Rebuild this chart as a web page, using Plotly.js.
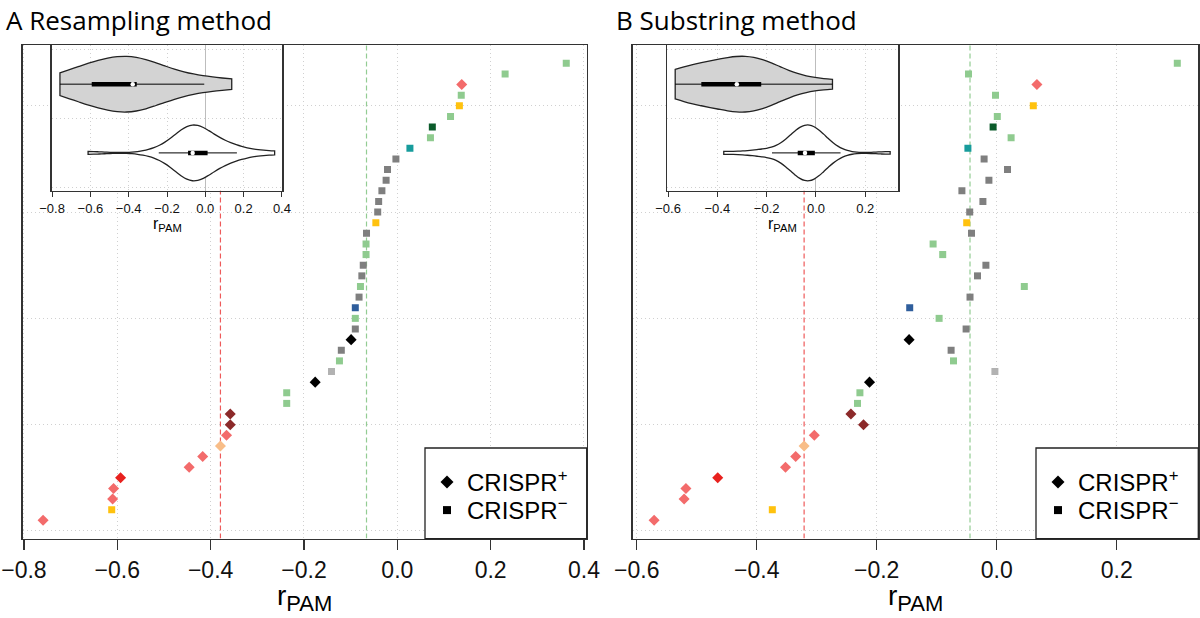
<!DOCTYPE html>
<html><head><meta charset="utf-8">
<script src="https://cdn.plot.ly/plotly-3.0.1.min.js"></script>
<style>html,body{margin:0;padding:0;background:#fff}</style>
</head><body>
<div id="chart" style="width:1200px;height:618px"></div>
<script>
// ---------------- data (one entry per organism, ordered by rank in panel A) ----------------
const rpamResampling = [-0.759, -0.612, -0.610, -0.608, -0.593, -0.446, -0.417, -0.379, -0.366, -0.358,
  -0.358, -0.237, -0.237, -0.176, -0.141, -0.124, -0.120, -0.099, -0.090, -0.090,
  -0.090, -0.082, -0.079, -0.076, -0.073, -0.067, -0.067, -0.066, -0.046, -0.042,
  -0.040, -0.033, -0.024, -0.021, -0.003, 0.027, 0.071, 0.075, 0.114, 0.133,
  0.137, 0.138, 0.231, 0.362];
const rpamSubstring = [-0.571, -0.374, -0.521, -0.518, -0.465, -0.352, -0.335, -0.321, -0.304, -0.222,
  -0.243, -0.232, -0.228, -0.212, -0.003, -0.072, -0.076, -0.146, -0.051, -0.096,
  -0.145, -0.0445, 0.046, -0.032, -0.018, -0.090, -0.106, -0.042, -0.050, -0.045,
  -0.023, -0.058, -0.013, 0.018, -0.021, -0.048, 0.024, -0.006, 0.001, 0.061,
  -0.002, 0.067, -0.047, 0.301];
const crisprStatus = ['+','-','+','+','+','+','+','+','+','+',
  '+','-','-','+','-','-','-','+','-','-',
  '-','-','-','-','-','-','-','-','-','-',
  '-','-','-','-','-','-','-','-','-','-',
  '-','+','-','-'];
const colorGroup = ['salmon','gold','salmon','salmon','red','salmon','salmon','peach','salmon','darkred',
  'darkred','lightgreen','lightgreen','black','lightgray','lightgreen','gray','black','gray','lightgreen',
  'blue','gray','lightgreen','gray','gray','lightgreen','lightgreen','gray','gold','gray',
  'gray','gray','gray','gray','gray','teal','lightgreen','darkgreen','lightgreen','gold',
  'lightgreen','salmon','lightgreen','lightgreen'];
const groupColors = {salmon:'#F36B6B', gold:'#FFC20E', red:'#E8211E', peach:'#F8BD88', darkred:'#8C2A2A',
  lightgreen:'#8FCB8F', black:'#000000', lightgray:'#B2B2B2', gray:'#7F7F7F', blue:'#2F5E9C',
  teal:'#179C9C', darkgreen:'#0B5B2B'};
const xTicksA = [-0.8, -0.6, -0.4, -0.2, 0, 0.2, 0.4];
const xTickTextA = ['\u22120.8', '\u22120.6', '\u22120.4', '\u22120.2', '0.0', '0.2', '0.4'];
const xTicksB = [-0.6, -0.4, -0.2, 0, 0.2];
const xTickTextB = ['\u22120.6', '\u22120.4', '\u22120.2', '0.0', '0.2'];
const rankGrid = [0, 10, 20, 30, 40];
const legendLabels = ['CRISPR<sup>+</sup>', 'CRISPR<sup>\u2212</sup>'];
const panelTitles = ['A Resampling method', 'B Substring method'];
const axisTitle = 'r<sub>PAM</sub>';

// ---------------- helpers ----------------
const W = 1200, H = 618;
const px = v => v / W, py = v => 1 - v / H;
const FONT = 'Liberation Sans, Arial, sans-serif';
const rank = rpamResampling.map((_, i) => i + 1);
const RANK_RANGE = [-0.72, 45.72];
const INSET_RANGE_Y = [0.45, 2.57];

function q7(arr, p) {
  const s = [...arr].sort((a, b) => a - b);
  const h = (s.length - 1) * p, lo = Math.floor(h);
  const hi = Math.min(lo + 1, s.length - 1);
  return s[lo] + (h - lo) * (s[hi] - s[lo]);
}
function sd(arr) {
  const m = arr.reduce((a, b) => a + b, 0) / arr.length;
  return Math.sqrt(arr.reduce((a, b) => a + (b - m) * (b - m), 0) / (arr.length - 1));
}
function split(vals, s) { return vals.filter((_, i) => crisprStatus[i] === s); }

const traces = [];
const shapes = [];
const annotations = [];

function panel(vals, xa, ya, xi, yi, legendIds) {
  // main points
  [['+', 'diamond', 8.5], ['-', 'square', 7]].forEach(([s, sym, size]) => {
    const idx = rank.map((_, i) => i).filter(i => crisprStatus[i] === s);
    traces.push({type: 'scatter', mode: 'markers', xaxis: xa, yaxis: ya,
      x: idx.map(i => vals[i]), y: idx.map(i => rank[i]),
      marker: {symbol: sym, size: size, color: idx.map(i => groupColors[colorGroup[i]]), line: {width: 0}},
      showlegend: false, hoverinfo: 'x+y'});
  });
  // legend entries (one legend per entry for exact placement)
  [['diamond', 10, legendLabels[0]], ['square', 8, legendLabels[1]]].forEach(([sym, size, name], k) => {
    traces.push({type: 'scatter', mode: 'markers', xaxis: xa, yaxis: ya, x: [null], y: [null],
      marker: {symbol: sym, size: size, color: '#000'}, name: name, legend: legendIds[k], showlegend: true});
  });
  // median lines
  const plus = split(vals, '+'), minus = split(vals, '-');
  [[q7(plus, 0.5), '#EE5A5A'], [q7(minus, 0.5), '#93CC93']].forEach(([m, c]) => {
    shapes.push({type: 'line', xref: xa, yref: ya, x0: m, x1: m, y0: RANK_RANGE[0], y1: RANK_RANGE[1],
      layer: 'below', line: {color: c, width: 1.2, dash: '5px,3px'}});
  });
  // inset violins
  [[plus, 2, '#D3D3D3'], [minus, 1, '#FFFFFF']].forEach(([d, pos, fill]) => {
    const bw = sd(d) * Math.pow(4 / (3 * d.length), 0.2);
    traces.push({type: 'violin', orientation: 'h', x: d, y0: pos, xaxis: xi, yaxis: yi,
      spanmode: 'hard', bandwidth: bw, scalemode: 'width', width: 0.81,
      fillcolor: fill, line: {color: '#222', width: 1.3}, points: false,
      box: {visible: false}, meanline: {visible: false}, showlegend: false, hoverinfo: 'skip'});
    const q1 = q7(d, 0.25), q3 = q7(d, 0.75), med = q7(d, 0.5), iqr = q3 - q1;
    const lo = Math.max(q1 - 1.5 * iqr, Math.min(...d)), hi = Math.min(q3 + 1.5 * iqr, Math.max(...d));
    traces.push({type: 'scatter', mode: 'lines', x: [lo, hi], y: [pos, pos], xaxis: xi, yaxis: yi,
      line: {color: '#000', width: 1}, showlegend: false, hoverinfo: 'skip'});
    traces.push({type: 'scatter', mode: 'lines', x: [q1, q3], y: [pos, pos], xaxis: xi, yaxis: yi,
      line: {color: '#000', width: 4.5}, showlegend: false, hoverinfo: 'skip'});
    traces.push({type: 'scatter', mode: 'markers', x: [med], y: [pos], xaxis: xi, yaxis: yi,
      marker: {color: '#FFFFFF', size: 4.5, line: {width: 0}}, showlegend: false, hoverinfo: 'skip'});
  });
}

panel(rpamResampling, 'x', 'y', 'x3', 'y3', ['legend', 'legend2']);
panel(rpamSubstring, 'x2', 'y2', 'x4', 'y4', ['legend3', 'legend4']);

// geometry (pixels)
const MAIN_Y = [45, 538.6], INSET_Y = [45, 190.7];
const MAIN_A_X = [22.7, 586.7], MAIN_B_X = [632.7, 1198.3];
const INSET_A_X = [51.7, 282.3], INSET_B_X = [667.3, 898.3];
const LEGEND_TOP = 448, LEGEND_A_LEFT = 425, LEGEND_B_LEFT = 1036;
const LEGEND_ITEM_Y = [480, 508];

const gridStyle = {showgrid: true, gridcolor: '#D0D0D0', griddash: '1px,3px', gridwidth: 1};
function mainX(dom, range, tv, tt, anchor) {
  return Object.assign({domain: [px(dom[0]), px(dom[1])], range: range, anchor: anchor,
    tickmode: 'array', tickvals: tv, ticktext: tt, ticks: 'outside', ticklen: 10, tickwidth: 1.2,
    tickcolor: '#333', showline: true, mirror: true, linecolor: '#333', linewidth: 1.5,
    zeroline: false, tickfont: {family: FONT, size: 23, color: '#111'}, ticklabelstandoff: 0,
    fixedrange: true}, gridStyle);
}
function mainY(anchor) {
  return Object.assign({domain: [py(MAIN_Y[1]), py(MAIN_Y[0])], range: RANK_RANGE, anchor: anchor,
    tickmode: 'array', tickvals: rankGrid, showticklabels: false, ticks: '',
    showline: true, mirror: true, linecolor: '#333', linewidth: 1.5, zeroline: false, fixedrange: true}, gridStyle);
}
function insetX(dom, range, tv, tt, anchor) {
  return Object.assign({domain: [px(dom[0]), px(dom[1])], range: range, anchor: anchor,
    tickmode: 'array', tickvals: tv, ticktext: tt, ticks: 'outside', ticklen: 5, tickwidth: 1,
    tickcolor: '#333', showline: true, mirror: true, linecolor: '#333', linewidth: 1.3,
    zeroline: true, zerolinecolor: '#BDBDBD', zerolinewidth: 1,
    tickfont: {family: FONT, size: 13, color: '#111'}, fixedrange: true}, gridStyle);
}
function insetY(anchor) {
  return Object.assign({domain: [py(INSET_Y[1]), py(INSET_Y[0])], range: INSET_RANGE_Y, anchor: anchor,
    tickmode: 'array', tickvals: [0.5, 1.5, 2.5], showticklabels: false, ticks: '',
    showline: true, mirror: true, linecolor: '#333', linewidth: 1.3, zeroline: false, fixedrange: true}, gridStyle);
}

// legend boxes
[[LEGEND_A_LEFT, MAIN_A_X[1]], [LEGEND_B_LEFT, MAIN_B_X[1]]].forEach(([l, r]) => {
  shapes.push({type: 'rect', xref: 'paper', yref: 'paper', x0: px(l), x1: px(r), y0: py(MAIN_Y[1]), y1: py(LEGEND_TOP),
    fillcolor: '#FFFFFF', line: {color: '#222', width: 1.3}, layer: 'above'});
});

// titles
[[4, panelTitles[0]], [614, panelTitles[1]]].forEach(([x, t]) => {
  annotations.push({xref: 'paper', yref: 'paper', x: px(x), y: py(20), xanchor: 'left', yanchor: 'middle',
    text: t, showarrow: false, font: {family: 'Open Sans, sans-serif', size: 26, color: '#000'}});
});
const bigTitle = 'r<sub><span style="font-size:22px">PAM</span></sub>';
[[(MAIN_A_X[0] + MAIN_A_X[1]) / 2], [(MAIN_B_X[0] + MAIN_B_X[1]) / 2]].forEach(([x]) => {
  annotations.push({xref: 'paper', yref: 'paper', x: px(x), y: py(617), xanchor: 'center', yanchor: 'bottom',
    text: bigTitle, showarrow: false, borderpad: 0, font: {family: FONT, size: 28, color: '#000'}});
});
[[(INSET_A_X[0] + INSET_A_X[1]) / 2], [(INSET_B_X[0] + INSET_B_X[1]) / 2]].forEach(([x]) => {
  annotations.push({xref: 'paper', yref: 'paper', x: px(x), y: py(224), xanchor: 'center', yanchor: 'middle',
    text: axisTitle, showarrow: false, font: {family: FONT, size: 16, color: '#000'}});
});

const legendStyle = (l, yc) => ({x: px(l + 2), y: py(yc - 20), xanchor: 'left', yanchor: 'top',
  bgcolor: 'rgba(0,0,0,0)', borderwidth: 0, font: {family: FONT, size: 24, color: '#000'},
  tracegroupgap: 0, itemclick: false, itemdoubleclick: false});

const layout = {
  width: W, height: H, margin: {l: 0, r: 0, t: 0, b: 0, pad: 0},
  paper_bgcolor: '#FFFFFF', plot_bgcolor: '#FFFFFF', showlegend: true,
  xaxis: mainX(MAIN_A_X, [-0.8027, 0.4058], xTicksA, xTickTextA, 'y'),
  yaxis: mainY('x'),
  xaxis2: mainX(MAIN_B_X, [-0.6067, 0.336], xTicksB, xTickTextB, 'y2'),
  yaxis2: mainY('x2'),
  xaxis3: insetX(INSET_A_X, [-0.802, 0.402], xTicksA, xTickTextA, 'y3'),
  yaxis3: insetY('x3'),
  xaxis4: insetX(INSET_B_X, [-0.603, 0.334], xTicksB, xTickTextB, 'y4'),
  yaxis4: insetY('x4'),
  legend: legendStyle(LEGEND_A_LEFT, LEGEND_ITEM_Y[0]),
  legend2: legendStyle(LEGEND_A_LEFT, LEGEND_ITEM_Y[1]),
  legend3: legendStyle(LEGEND_B_LEFT, LEGEND_ITEM_Y[0]),
  legend4: legendStyle(LEGEND_B_LEFT, LEGEND_ITEM_Y[1]),
  shapes: shapes, annotations: annotations
};
Plotly.newPlot('chart', traces, layout, {displayModeBar: false, staticPlot: true});
</script>
</body></html>
